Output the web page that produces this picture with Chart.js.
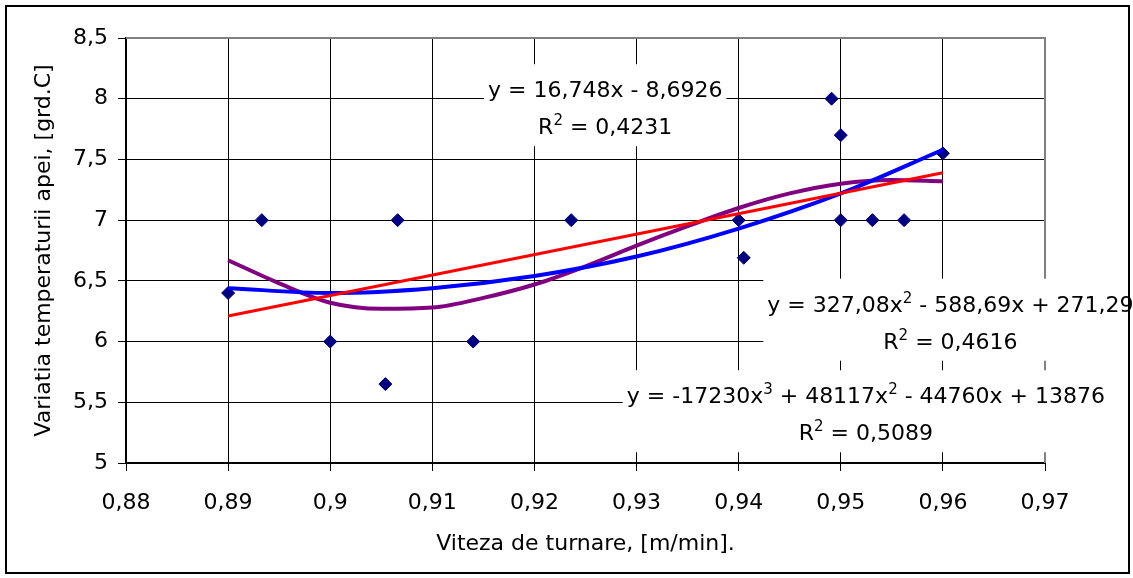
<!DOCTYPE html>
<html>
<head>
<meta charset="utf-8">
<script src="https://cdn.jsdelivr.net/npm/chart.js@4.4.0/dist/chart.umd.min.js"></script>
<style>
  html, body { margin: 0; padding: 0; background: #fff; }
  canvas { display: block; }
</style>
</head>
<body>
<canvas id="grafic-temperatura" width="1133" height="578"></canvas>
<script>
// DATE - puncte masurate
const vitezaTurnare = [0.89, 0.8933, 0.9, 0.9054, 0.9066, 0.914, 0.9236, 0.94, 0.9405, 0.9491, 0.95, 0.95, 0.9531, 0.9562, 0.96]
const variatiaTemp = [6.4, 7, 6, 5.65, 7, 6, 7, 7, 6.69, 8, 7.7, 7, 7, 7, 7.55]

// linii de tendinta
const liniarX = [0.89, 0.96]
const liniarY = [6.21, 7.39]
const poli2X = [0.89, 0.90, 0.91, 0.92, 0.93, 0.94, 0.95, 0.96]
const poli2Y = [6.44, 6.40, 6.44, 6.54, 6.70, 6.93, 7.22, 7.58]
const poli3X = [0.89, 0.895, 0.90, 0.905, 0.91, 0.915, 0.92, 0.925, 0.93, 0.935, 0.94, 0.945, 0.95, 0.955, 0.96]
const poli3Y = [6.67, 6.48, 6.32, 6.27, 6.28, 6.36, 6.47, 6.62, 6.79, 6.95, 7.10, 7.22, 7.30, 7.33, 7.32]

// axe
const ticksX = [0.88, 0.89, 0.9, 0.91, 0.92, 0.93, 0.94, 0.95, 0.96, 0.97]
const ticksY = [5, 5.5, 6, 6.5, 7, 7.5, 8, 8.5]

// ecuatii afisate
const ecuatii = ['y = 16,748x - 8,6926', 'y = 327,08x^2 - 588,69x + 271,29', 'y = -17230x^3 + 48117x^2 - 44760x + 13876']
const valoriR2 = ['R^2 = 0,4231', 'R^2 = 0,4616', 'R^2 = 0,5089']

const FONT = '"DejaVu Sans", sans-serif'

function puncte(xs, ys) {
    return xs.map(function(x, i) { return { x: x, y: ys[i] } })
}

function formatVirgula(v) {
    return String(Number(v.toFixed(2))).replace('.', ',')
}

// latimea unui text cu exponenti de forma x^2
function latimeText(ctx, text) {
    let latime = 0
    text.split(/\^(\d)/).forEach(function(b, i) {
        ctx.font = (i % 2 ? '15px ' : '22px ') + FONT
        latime += ctx.measureText(b).width
    })
    return latime
}

function scrieText(ctx, text, xCentru, yBaza) {
    const bucati = text.split(/\^(\d)/)
    let x = xCentru - latimeText(ctx, text) / 2
    ctx.textAlign = 'left'
    ctx.textBaseline = 'alphabetic'
    ctx.fillStyle = '#000'
    bucati.forEach(function(b, i) {
        ctx.font = (i % 2 ? '15px ' : '22px ') + FONT
        ctx.fillText(b, x, i % 2 ? yBaza - 9 : yBaza)
        x += ctx.measureText(b).width
    })
}

// pozitia etichetelor (centru, linia de baza a primului rand) in unitatile graficului
const pozEtichete = [
    { x: 0.92693, y: 8.012 },
    { x: 0.96074, y: 6.246 },
    { x: 0.95246, y: 5.492 }
]

const pluginEtichete = {
    id: 'etichete',
    beforeDatasetsDraw: function(chart) {
        // marginea gri a zonei de desen
        const ctx = chart.ctx
        const a = chart.chartArea
        ctx.save()
        ctx.strokeStyle = '#808080'
        ctx.lineWidth = 2
        ctx.beginPath()
        ctx.moveTo(a.left, a.top)
        ctx.lineTo(a.right, a.top)
        ctx.lineTo(a.right, a.bottom)
        ctx.stroke()
        ctx.restore()
    },
    afterDraw: function(chart) {
        const ctx = chart.ctx
        const sx = chart.scales.x
        const sy = chart.scales.y
        ctx.save()
        pozEtichete.forEach(function(p, i) {
            const cx = sx.getPixelForValue(p.x)
            const by = sy.getPixelForValue(p.y)
            const rand = 37
            const w = Math.max(latimeText(ctx, ecuatii[i]), latimeText(ctx, valoriR2[i]))
            ctx.fillStyle = '#fff'
            ctx.fillRect(cx - w / 2 - 4, by - 33, w + 8, rand + 45)
            scrieText(ctx, ecuatii[i], cx, by)
            scrieText(ctx, valoriR2[i], cx, by + rand)
        })
        // chenar exterior
        ctx.strokeStyle = '#000'
        ctx.lineWidth = 2
        ctx.strokeRect(6, 6, 1123, 567)
        ctx.restore()
    }
}

const grafCtx = document.getElementById('grafic-temperatura').getContext('2d')

const grafic = new Chart(grafCtx, {
    type: 'scatter',
    data: {
        datasets: [{
            label: 'Liniar',
            data: puncte(liniarX, liniarY),
            showLine: true,
            borderColor: '#ff0000',
            borderWidth: 3,
            pointRadius: 0,
            order: 1
        }, {
            label: 'Polinomial 2',
            data: puncte(poli2X, poli2Y),
            showLine: true,
            borderColor: '#0000ff',
            borderWidth: 4,
            pointRadius: 0,
            cubicInterpolationMode: 'monotone',
            order: 2
        }, {
            label: 'Polinomial 3',
            data: puncte(poli3X, poli3Y),
            showLine: true,
            borderColor: '#800080',
            borderWidth: 4,
            pointRadius: 0,
            cubicInterpolationMode: 'monotone',
            order: 3
        }, {
            label: 'Variatia temperaturii',
            data: puncte(vitezaTurnare, variatiaTemp),
            pointStyle: 'rectRot',
            pointRadius: 6.5,
            backgroundColor: '#000080',
            borderColor: '#000080',
            borderWidth: 1,
            order: 4
        }]
    },
    options: {
        responsive: false,
        animation: false,
        layout: {
            padding: { top: 38, right: 88, left: 0, bottom: 0 }
        },
        plugins: {
            legend: { display: false },
            tooltip: { enabled: false }
        },
        scales: {
            x: {
                type: 'linear',
                min: 0.88,
                max: 0.97,
                afterBuildTicks: function(s) { s.ticks = ticksX.map(function(v) { return { value: v } }) },
                afterFit: function(s) { s.height = 115 },
                grid: { color: '#000', lineWidth: 1, tickLength: 8 },
                border: { color: '#000', width: 2 },
                ticks: {
                    color: '#000',
                    padding: 19,
                    maxRotation: 0,
                    autoSkip: false,
                    font: { family: FONT, size: 22 },
                    callback: formatVirgula
                },
                title: {
                    display: true,
                    text: 'Viteza de turnare, [m/min].',
                    color: '#000',
                    font: { family: FONT, size: 22 },
                    padding: { top: 0, bottom: 21 }
                }
            },
            y: {
                type: 'linear',
                min: 5,
                max: 8.5,
                afterBuildTicks: function(s) { s.ticks = ticksY.map(function(v) { return { value: v } }) },
                afterFit: function(s) { s.width = 126 },
                grid: { color: '#000', lineWidth: 1, tickLength: 8 },
                border: { color: '#000', width: 2 },
                ticks: {
                    color: '#000',
                    padding: 10,
                    autoSkip: false,
                    font: { family: FONT, size: 22 },
                    callback: formatVirgula
                },
                title: {
                    display: true,
                    text: 'Variatia temperaturii apei, [grd.C]',
                    color: '#000',
                    font: { family: FONT, size: 22 },
                    padding: { top: 31, bottom: 0 }
                }
            }
        }
    },
    plugins: [pluginEtichete]
})
</script>
</body>
</html>
